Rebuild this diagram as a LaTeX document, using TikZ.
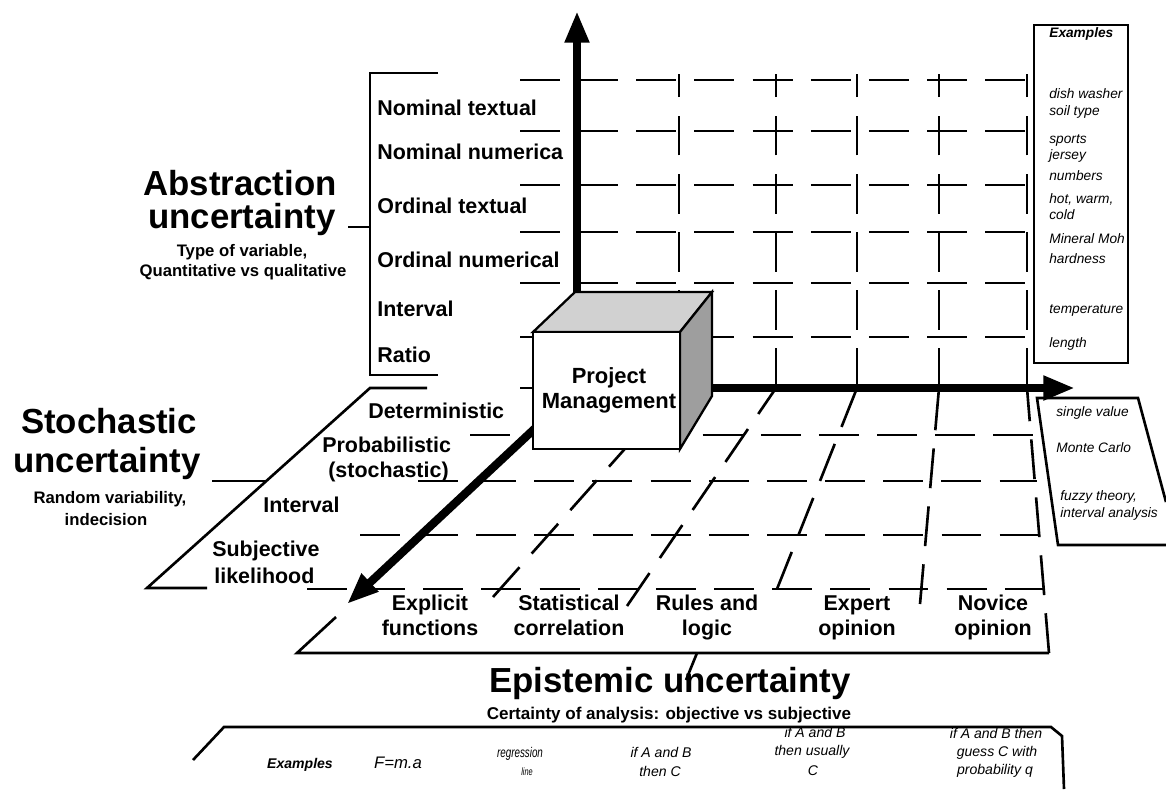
\documentclass[tikz,border=0pt]{standalone}
\usepackage{fontspec}
\setmainfont{Liberation Sans}
\usepackage{tikz}
\usetikzlibrary{arrows.meta}
\newcommand{\fs}[1]{\fontsize{#1}{#1}\selectfont}
\newcommand{\bi}{\bfseries\itshape}

\begin{document}
\begin{tikzpicture}[x=0.02cm, y=-0.02cm,
  grid/.style={line width=1.5pt, dash pattern=on 22.7pt off 10.4pt},
  rim/.style={line width=1.5pt},
  axis/.style={line width=4.7pt, -{Triangle[length=18pt,width=13pt]}},
  big/.style={font=\fs{19.8}\bfseries, inner sep=0pt, anchor=base},
  sub/.style={font=\fs{9.5}\bfseries, inner sep=0pt, anchor=base},
  lbl/.style={font=\fs{12.2}\bfseries, inner sep=0pt, anchor=base west},
  col/.style={font=\fs{12.2}\bfseries, inner sep=0pt, anchor=base},
  ex/.style={font=\fs{7.8}\itshape, inner sep=0pt, anchor=base west},
  exb/.style={font=\fs{8}\itshape, inner sep=0pt, anchor=base}]
\useasboundingbox (0,0) rectangle (1166,789);

% back wall grid
\foreach \y in {80,131,185,232,283,337,388}
  \draw[grid] (520,\y) -- (1027,\y);
\foreach \x in {679,776,857,939,1027}
  \draw[grid] (\x,388) -- (\x,74);

% floor grid
\foreach \y/\xa/\xb in {435/470/1035, 481/418/1037, 535/360/1041, 589/307/1046}
  \draw[grid] (\xa,\y) -- (\xb,\y);
\foreach \xa/\ya/\xb in {493/597/679, 627/606/776, 777/589/857, 920/604/939, 1049/653/1027}
  \draw[grid] (\xa,\ya) -- (\xb,388);

% brackets
\coordinate (wt) at (348,227); \coordinate (wb) at (370,227);
\draw[rim] (438,73) -- (370,73) -- (370,375) -- (438,375);
\draw[rim] (wt) -- (wb);
\coordinate (st) at (212,481); \coordinate (sb) at (266,481);
\draw[rim] (427,388) -- (370,388) -- (147,588) -- (207,588);
\draw[rim] (st) -- (sb);
\coordinate (et) at (686,680); \coordinate (eb) at (697,653);
\draw[rim] (336,617) -- (297,653) -- (1049,653);
\draw[rim] (eb) -- (et);

% example boxes
\draw[rim] (1034,25) rectangle (1128,363);
\draw[rim] (1166,545) -- (1058,545) -- (1037,398) -- (1138,398) -- (1166,502);
\draw[rim] (193,760) -- (224,727) -- (1051,727) -- (1062,736) -- (1064,789);

% axes
\coordinate (o) at (577,330);
\draw[axis] (o) -- (577,11);
\draw[axis] (690,388) -- (1075,388);
\draw[axis] (560,405) -- (347,604);

% cube
\filldraw[line width=1.3pt, fill=black!18] (533,332) -- (575,292) -- (712,292) -- (680,332) -- cycle;
\filldraw[line width=1.3pt, fill=black!38] (680,332) -- (712,292) -- (712,396) -- (680,449) -- cycle;
\filldraw[line width=1.3pt, fill=white] (533,332) rectangle (680,449);
\node[col, font=\fs{12.5}\bfseries] (pm1) at (609,383) {Project};
\node[col, font=\fs{12.5}\bfseries] (pm2) at (609,408) {Management};

% titles
\node[big] (abs1) at (240,195) {Abstraction};
\node[big] (abs2) at (242,228) {uncertainty};
\node[sub] (abs3) at (242,256) {Type of variable,};
\node[sub] (abs4) at (243,276) {Quantitative vs qualitative};
\node[big] (sto1) at (109,433) {Stochastic};
\node[big] (sto2) at (107,472) {uncertainty};
\node[sub] (sto3) at (110,503) {Random variability,};
\node[sub] (sto4) at (106,525) {indecision};
\node[big] (epi1) at (670,692) {Epistemic uncertainty};
\node[sub, font=\fs{9.7}\bfseries] (epi2) at (669,719) {Certainty of analysis: objective vs subjective};

% row and column labels
\foreach \t/\y [count=\i] in {Nominal textual/115, Nominal numerica/159, Ordinal textual/213,
    Ordinal numerical/267, Interval/316, Ratio/362}
  \node[lbl] (w\i) at (377,\y) {\t};
\node[lbl] (f1) at (368,418) {Deterministic};
\node[lbl] (f2) at (322,452) {Probabilistic};
\node[lbl] (f3) at (328,477) {(stochastic)};
\node[lbl] (f4) at (263,512) {Interval};
\node[lbl] (f5) at (212,556) {Subjective};
\node[lbl] (f6) at (214,583) {likelihood};
\foreach \x/\a/\b [count=\i] in {430/Explicit/functions, 569/Statistical/correlation,
    707/Rules and/logic, 857/Expert/opinion, 993/Novice/opinion} {
  \node[col] (c\i-a) at (\x,610) {\a};
  \node[col] (c\i-b) at (\x,635) {\b};
}

% examples
\node[ex, font=\fs{7.8}\bi] (r0) at (1049,37) {Examples};
\foreach \t/\y [count=\i] in {dish washer/98, soil type/115, sports/143, jersey/159, numbers/180,
    {hot, warm,}/203, cold/219, Mineral Moh/243, hardness/263, temperature/313, length/347}
  \node[ex] (r\i) at (1049,\y) {\t};
\node[ex] (s1) at (1056,416) {single value};
\node[ex] (s2) at (1056,452) {Monte Carlo};
\node[ex] (s3) at (1060,500) {fuzzy theory,};
\node[ex] (s4) at (1060,517) {interval analysis};
\node[exb, font=\fs{8}\bi] (b0) at (300,768) {Examples};
\node[exb, font=\fs{9.5}\itshape] (b1) at (398,768) {F=m.a};
\node[exb] (b2) at (520,757) {\scalebox{0.7}[1]{regression}};
\node[exb, font=\fs{6}\itshape] (b3) at (527,775) {\scalebox{0.7}[1]{line}};
\node[exb] (b4) at (661,757) {if A and B};
\node[exb] (b5) at (660,776) {then C};
\node[exb] (b6) at (815,737) {if A and B};
\node[exb] (b7) at (812,755) {then usually};
\node[exb] (b8) at (813,775) {C};
\node[exb] (b9) at (996,738) {if A and B then};
\node[exb] (b10) at (997,756) {guess C with};
\node[exb] (b11) at (995,774) {probability q};
\end{tikzpicture}
\end{document}
